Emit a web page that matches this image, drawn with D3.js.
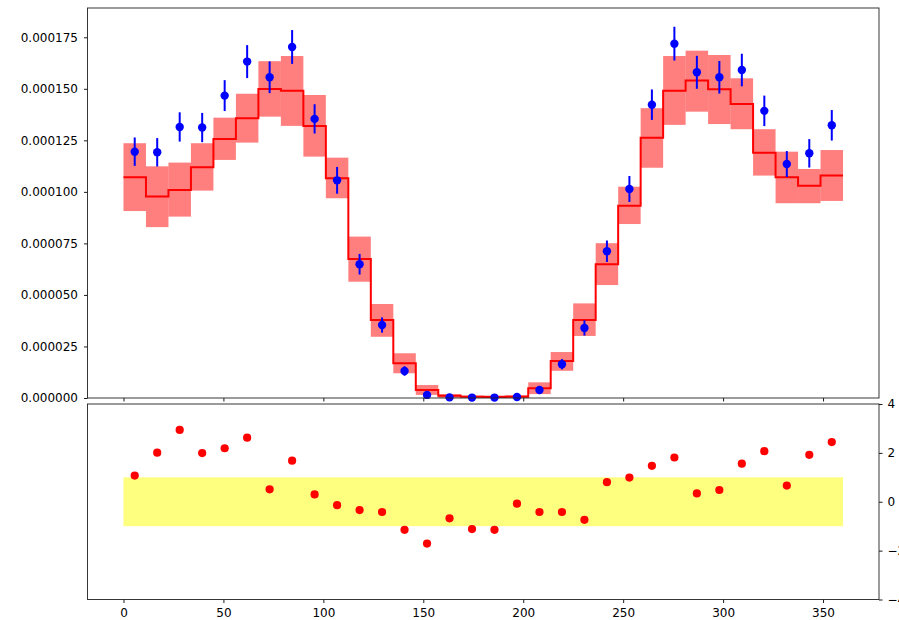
<!DOCTYPE html>
<html>
<head>
<meta charset="utf-8">
<script src="https://cdn.jsdelivr.net/npm/d3@7"></script>
<style>
  body { margin: 0; background: #fff; }
  svg { display: block; font-family: "DejaVu Sans", sans-serif; }
  .tick text { font-family: "DejaVu Sans", sans-serif; font-size: 12px; fill: #000; }
  .tick line { stroke: #000; stroke-width: 0.9; }
</style>
</head>
<body>
<svg id="chart" width="899" height="620"></svg>
<script>
// bin centres (degrees), 32 bins of 11.25
const binCenters = [5.625, 16.875, 28.125, 39.375, 50.625, 61.875, 73.125, 84.375,
  95.625, 106.875, 118.125, 129.375, 140.625, 151.875, 163.125, 174.375,
  185.625, 196.875, 208.125, 219.375, 230.625, 241.875, 253.125, 264.375,
  275.625, 286.875, 298.125, 309.375, 320.625, 331.875, 343.125, 354.375]
const binWidth = 11.25

// values in units of 1e-6
const modelVals = [107.1, 97.7, 100.9, 111.9, 125.7, 135.7, 149.9, 149.1, 132.0, 106.6, 67.4, 37.8,
  16.8, 3.9, 1.1, 0.6, 0.5, 0.6, 4.7, 18.0, 37.8, 64.9, 93.3, 126.2, 149.1, 154.0, 149.8, 142.6,
  119.0, 107.1, 103.0, 107.9]
const bandHigh = [123.6, 112.4, 114.2, 123.6, 136.0, 147.6, 163.4, 165.9, 147.0, 116.6, 78.3, 45.6,
  21.7, 6.3, 1.9, 1.2, 1.2, 1.4, 7.6, 22.3, 45.9, 75.1, 102.5, 140.6, 165.9, 168.5, 166.4, 155.1,
  130.4, 119.5, 111.1, 120.3]
const bandLow = [90.7, 82.9, 88.0, 100.6, 115.5, 123.9, 136.5, 132.0, 117.1, 96.9, 56.4, 29.7,
  12.0, 1.5, 0.1, 0, 0, 0, 1.9, 13.2, 30.1, 54.8, 84.4, 111.7, 132.5, 138.9, 132.9, 130.4,
  107.9, 94.5, 94.5, 95.6]
const dataVals = [119.5, 119.2, 131.5, 131.2, 146.7, 163.2, 155.6, 170.3, 135.4, 105.6, 64.9, 35.4,
  13.1, 1.5, 0.3, 0.2, 0.2, 0.5, 3.9, 16.4, 34.0, 71.2, 101.4, 142.3, 171.9, 158.0, 155.6, 159.1,
  139.3, 113.5, 118.7, 132.3]
const dataErr = [6.9, 6.9, 7.1, 7.1, 7.5, 8.0, 7.7, 8.2, 7.1, 6.5, 5.0, 3.7,
  2.3, 0.8, 0.3, 0.2, 0.2, 0.4, 1.2, 2.5, 3.7, 5.2, 6.3, 7.4, 8.2, 8.0, 7.9, 7.9,
  7.4, 6.3, 6.9, 7.4]

// residuals (bottom panel)
const pulls = [1.07, 2.01, 2.94, 1.99, 2.19, 2.62, 0.51, 1.68, 0.30, -0.14, -0.34, -0.42,
  -1.15, -1.71, -0.68, -1.12, -1.15, -0.08, -0.42, -0.42, -0.74, 0.80, 0.99, 1.47,
  1.81, 0.34, 0.48, 1.56, 2.07, 0.66, 1.92, 2.44]
const pullBand = [-1, 1]

const xTicks = [0, 50, 100, 150, 200, 250, 300, 350]
const yTicksTop = [0, 25, 50, 75, 100, 125, 150, 175]
const yTickLabelsTop = ["0.000000", "0.000025", "0.000050", "0.000075", "0.000100", "0.000125", "0.000150", "0.000175"]
const yTicksBottom = [-4, -2, 0, 2, 4]

const svg = d3.select("#chart")
const left = 87.5, right = 879
const top1 = 8, bot1 = 398
const top2 = 404, bot2 = 599.5

const x = d3.scaleLinear().domain([-18, 378]).range([left, right])
const y1 = d3.scaleLinear().domain([0, 189.2]).range([bot1, top1])
const y2 = d3.scaleLinear().domain([-4, 4]).range([bot2, top2])

// ---------- top panel ----------
const g1 = svg.append("g")

g1.selectAll("rect.band")
  .data(binCenters)
  .enter().append("rect")
  .attr("class", "band")
  .attr("x", d => x(d - binWidth / 2))
  .attr("width", d => x(d + binWidth / 2) - x(d - binWidth / 2))
  .attr("y", (d, i) => y1(bandHigh[i]))
  .attr("height", (d, i) => y1(bandLow[i]) - y1(bandHigh[i]))
  .attr("fill", "red")
  .attr("fill-opacity", 0.5)

const stepPts = binCenters.map((c, i) => [c - binWidth / 2, modelVals[i]])
stepPts.push([binCenters[binCenters.length - 1] + binWidth / 2, modelVals[modelVals.length - 1]])
const stepLine = d3.line()
  .x(d => x(d[0]))
  .y(d => y1(d[1]))
  .curve(d3.curveStepAfter)

g1.append("path")
  .datum(stepPts)
  .attr("d", stepLine)
  .attr("fill", "none")
  .attr("stroke", "red")
  .attr("stroke-width", 2)

g1.selectAll("line.err")
  .data(binCenters)
  .enter().append("line")
  .attr("class", "err")
  .attr("x1", d => x(d)).attr("x2", d => x(d))
  .attr("y1", (d, i) => y1(dataVals[i] - dataErr[i]))
  .attr("y2", (d, i) => y1(dataVals[i] + dataErr[i]))
  .attr("stroke", "blue")
  .attr("stroke-width", 2)

g1.selectAll("circle.pt")
  .data(binCenters)
  .enter().append("circle")
  .attr("class", "pt")
  .attr("cx", d => x(d))
  .attr("cy", (d, i) => y1(dataVals[i]))
  .attr("r", 4.2)
  .attr("fill", "blue")

g1.append("g")
  .attr("transform", `translate(${left},0)`)
  .call(d3.axisLeft(y1).tickValues(yTicksTop).tickFormat((d, i) => yTickLabelsTop[i]).tickSize(3.5).tickPadding(6))
  .call(a => a.select(".domain").remove())

g1.append("g")
  .attr("transform", `translate(0,${bot1})`)
  .call(d3.axisBottom(x).tickValues(xTicks).tickFormat("").tickSize(3.5))
  .call(a => a.select(".domain").remove())

g1.append("rect")
  .attr("x", left).attr("y", top1)
  .attr("width", right - left).attr("height", bot1 - top1)
  .attr("fill", "none").attr("stroke", "#222").attr("stroke-width", 0.9)

// ---------- bottom panel ----------
const g2 = svg.append("g")

g2.append("rect")
  .attr("x", x(0)).attr("width", x(360) - x(0))
  .attr("y", y2(pullBand[1])).attr("height", y2(pullBand[0]) - y2(pullBand[1]))
  .attr("fill", "yellow").attr("fill-opacity", 0.5)

g2.selectAll("circle.pull")
  .data(binCenters)
  .enter().append("circle")
  .attr("class", "pull")
  .attr("cx", d => x(d))
  .attr("cy", (d, i) => y2(pulls[i]))
  .attr("r", 4.1)
  .attr("fill", "red")

g2.append("g")
  .attr("transform", `translate(0,${bot2})`)
  .call(d3.axisBottom(x).tickValues(xTicks).tickFormat(d3.format("d")).tickSize(3.5).tickPadding(5))
  .call(a => a.select(".domain").remove())

g2.append("g")
  .attr("transform", `translate(${right},0)`)
  .call(d3.axisRight(y2).tickValues(yTicksBottom).tickFormat(d => d < 0 ? "\u2212" + Math.abs(d) : String(d)).tickSize(3.5).tickPadding(5))
  .call(a => a.select(".domain").remove())

g2.append("rect")
  .attr("x", left).attr("y", top2)
  .attr("width", right - left).attr("height", bot2 - top2)
  .attr("fill", "none").attr("stroke", "#222").attr("stroke-width", 0.9)
</script>
</body>
</html>
